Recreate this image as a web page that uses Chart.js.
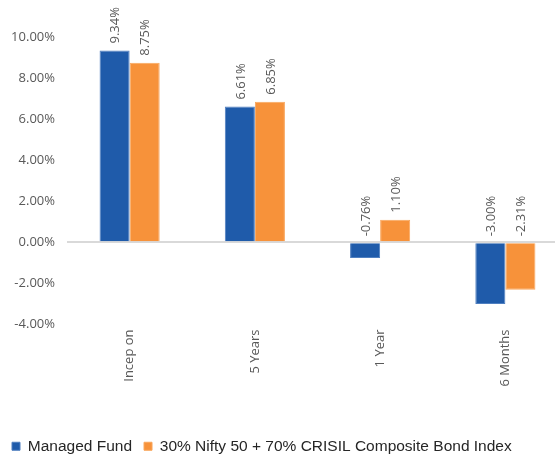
<!DOCTYPE html>
<html>
<head>
<meta charset="utf-8">
<script src="https://cdn.jsdelivr.net/npm/chart.js@4/dist/chart.umd.min.js"></script>
<style>
  html, body { margin: 0; padding: 0; background: #fff; }
  #wrap { width: 555px; height: 454px; overflow: hidden; position: relative; }
  #box { width: 568px; height: 454px; position: absolute; left: 0; top: 0; }
</style>
</head>
<body>
<div id="wrap"><div id="box"><canvas id="returnsChart"></canvas></div></div>
<script>
const periods = ['Incep on', '5 Years', '1 Year', '6 Months'];
const fundReturns = [9.34, 6.61, -0.76, -3.00];
const benchmarkReturns = [8.75, 6.85, 1.10, -2.31];
const yTicks = [-4, -2, 0, 2, 4, 6, 8, 10];

// value labels, rotated, sitting above the bar top (or above the base for negatives)
const barLabels = {
  id: 'barLabels',
  afterDatasetsDraw(chart) {
    const ctx = chart.ctx;
    ctx.save();
    ctx.font = '13px "Open Sans"';
    ctx.fillStyle = '#595959';
    ctx.textAlign = 'left';
    ctx.textBaseline = 'middle';
    chart.data.datasets.forEach((ds, i) => {
      chart.getDatasetMeta(i).data.forEach((bar, j) => {
        const y = Math.min(bar.y, bar.base) - 7;
        ctx.save();
        ctx.translate(bar.x + 1, y);
        ctx.rotate(-Math.PI / 2);
        ctx.fillText(ds.data[j].toFixed(2) + '%', 0, 0);
        ctx.restore();
      });
    });
    ctx.restore();
  }
};

const returnsChartCanvas = document.getElementById('returnsChart');
new Chart(returnsChartCanvas, {
  type: 'bar',
  data: {
    labels: periods,
    datasets: [{
      label: 'Managed Fund',
      data: fundReturns,
      backgroundColor: '#1F5BAA',
      borderColor: '#4f7fc0',
      borderWidth: 1,
    }, {
      label: '30% Nifty 50 + 70% CRISIL Composite Bond Index',
      data: benchmarkReturns,
      backgroundColor: '#F7923A',
      borderColor: '#f9a65c',
      borderWidth: 1,
    }],
  },
  options: {
    responsive: true,
    maintainAspectRatio: false,
    animation: false,
    categoryPercentage: 0.48,
    barPercentage: 1.0,
    layout: { padding: { top: 37, right: 0, left: 0, bottom: -10 } },
    scales: {
      x: {
        grid: { display: false },
        border: { display: false },
        ticks: {
          minRotation: 90,
          maxRotation: 90,
          padding: -3,
          color: '#595959',
          font: { family: 'Open Sans', size: 13 },
        },
        afterFit: (scale) => { scale.height = 102; },
      },
      y: {
        min: -4,
        max: 10,
        afterBuildTicks: (scale) => { scale.ticks = yTicks.map(v => ({ value: v })); },
        border: { display: false },
        grid: {
          drawTicks: false,
          lineWidth: 2,
          color: (c) => (c.tick && c.tick.value === 0 ? '#d9d9d9' : 'rgba(0,0,0,0)'),
        },
        ticks: {
          padding: 12,
          color: '#595959',
          font: { family: 'Open Sans', size: 13 },
          callback: (v) => Number(v).toFixed(2) + '%',
        },
        afterFit: (scale) => { scale.width = 67; },
      },
    },
    plugins: {
      legend: {
        position: 'bottom',
        align: 'start',
        labels: {
          boxWidth: 8,
          boxHeight: 8,
          padding: 12,
          color: '#262626',
          font: { family: 'Liberation Sans', size: 15.5 },
        },
      },
      tooltip: { enabled: false },
    },
  },
  plugins: [barLabels],
});
</script>
</body>
</html>
